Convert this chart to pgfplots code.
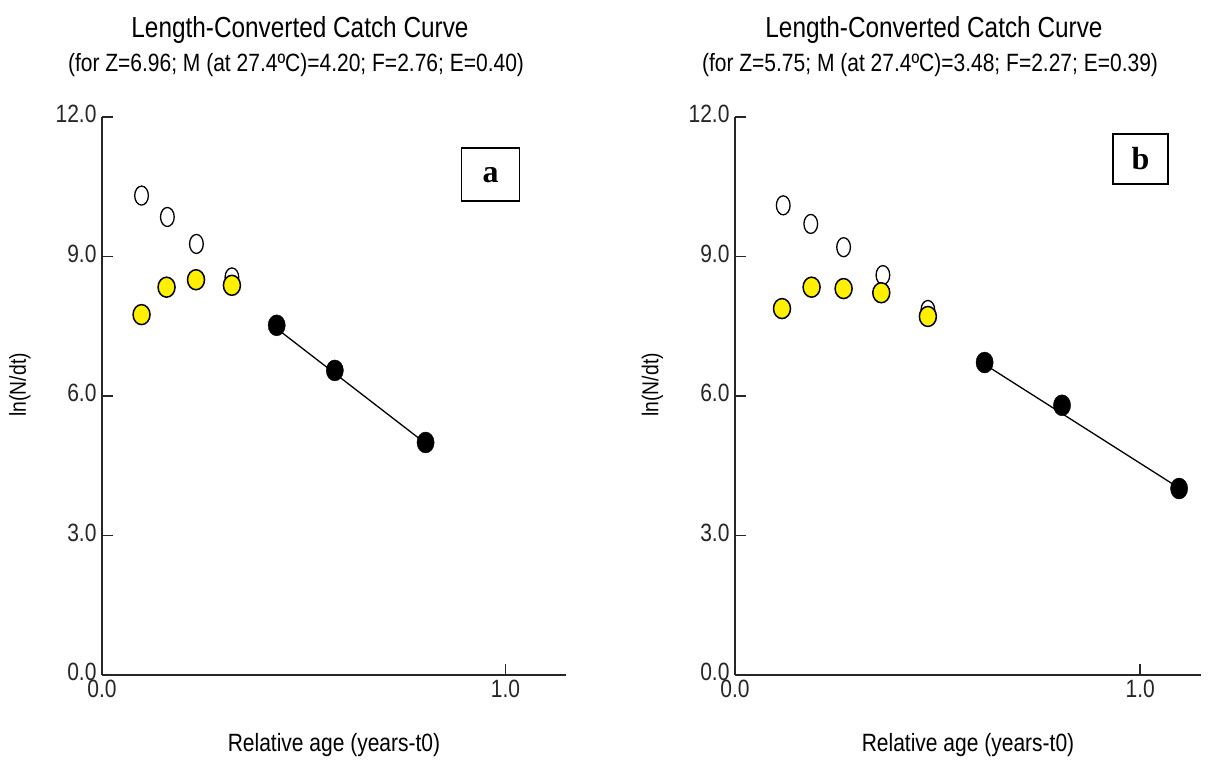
\documentclass[border=0pt]{standalone}
\usepackage{fontspec}
\setmainfont[FakeStretch=0.84]{Liberation Sans}
\newfontfamily\boxfont{Liberation Serif}
\usepackage{pgfplots}
\pgfplotsset{compat=1.18}
\definecolor{ptyellow}{RGB}{255,240,0}
\pgfplotsset{cc/.style={
  scale only axis, height=558pt,
  xmin=0, xmax=1.15, ymin=0, ymax=12,
  axis lines=left, axis line style={-, line width=1.9pt, black!85},
  xtick={0,1}, xticklabels={0.0,1.0},
  ytick={0,3,6,9,12}, yticklabels={0.0,3.0,6.0,9.0,12.0},
  tick align=inside, major tick length=11pt,
  tick style={line width=1.9pt, black!85},
  ticklabel style={font=\fontsize{25}{25}\selectfont, text=black!85},
  xticklabel style={yshift=-2pt},
  yticklabel style={yshift=3pt, xshift=-2pt},
  xlabel={Relative age (years-t0)},
  xlabel style={font=\fontsize{25}{25}\selectfont, at={(axis description cs:0.5,-0.125)}, anchor=center},
  ylabel={ln(N/dt)},
  ylabel style={font=\fontsize{23}{23}\selectfont, at={(axis description cs:-0.177,0.52)}, anchor=center, rotate=0},
  clip=false,
},
openpt/.style={only marks, mark=*, mark size=9.5pt, mark options={xscale=0.72, fill=white, draw=black, line width=1.3pt}},
yelpt/.style={only marks, mark=*, mark size=10pt, mark options={xscale=0.85, fill=ptyellow, draw=black, line width=1.5pt}},
blkpt/.style={only marks, mark=*, mark size=10.5pt, mark options={xscale=0.82, fill=black, draw=black}},
fitline/.style={no marks, black, line width=1.3pt},
}
\begin{document}
\begin{tikzpicture}[x=1pt,y=1pt]
\useasboundingbox (0,0) rectangle (1208,765);
% ---------- panel a ----------
\begin{axis}[cc, at={(102pt,90pt)}, anchor=origin, width=464pt]
\addplot[openpt] coordinates {(0.098,10.31) (0.162,9.85) (0.234,9.27) (0.322,8.55)};
\addplot[yelpt] coordinates {(0.098,7.75) (0.160,8.34) (0.233,8.50) (0.322,8.38)};
\addplot[fitline] coordinates {(0.433,7.45) (0.802,4.98)};
\addplot[blkpt] coordinates {(0.433,7.52) (0.577,6.55) (0.802,5.00)};
\node[draw=black, line width=1.4pt, minimum width=58pt, minimum height=53pt, inner sep=0pt,
  font=\boxfont\bfseries\fontsize{32}{32}\selectfont] at (axis cs:0.963,10.76) {a};
\end{axis}
\node[font=\fontsize{29}{29}\selectfont] at (300,735) {Length-Converted Catch Curve};
\node[font=\fontsize{25}{25}\selectfont] at (296,700) {(for Z=6.96; M (at 27.4ºC)=4.20; F=2.76; E=0.40)};
% ---------- panel b ----------
\begin{axis}[cc, at={(735pt,90pt)}, anchor=origin, width=466pt]
\addplot[openpt] coordinates {(0.119,10.10) (0.187,9.70) (0.268,9.20) (0.365,8.60) (0.476,7.85)};
\addplot[yelpt] coordinates {(0.116,7.88) (0.189,8.34) (0.268,8.31) (0.361,8.22) (0.476,7.71)};
\addplot[fitline] coordinates {(0.616,6.68) (1.096,4.02)};
\addplot[blkpt] coordinates {(0.616,6.72) (0.807,5.80) (1.096,4.01)};
\node[draw=black, line width=1.4pt, minimum width=55pt, minimum height=50pt, inner sep=0pt,
  font=\boxfont\bfseries\fontsize{32}{32}\selectfont] at (axis cs:1.001,11.10) {b};
\end{axis}
\node[font=\fontsize{29}{29}\selectfont] at (934,735) {Length-Converted Catch Curve};
\node[font=\fontsize{25}{25}\selectfont] at (930,700) {(for Z=5.75; M (at 27.4ºC)=3.48; F=2.27; E=0.39)};
\end{tikzpicture}
\end{document}
